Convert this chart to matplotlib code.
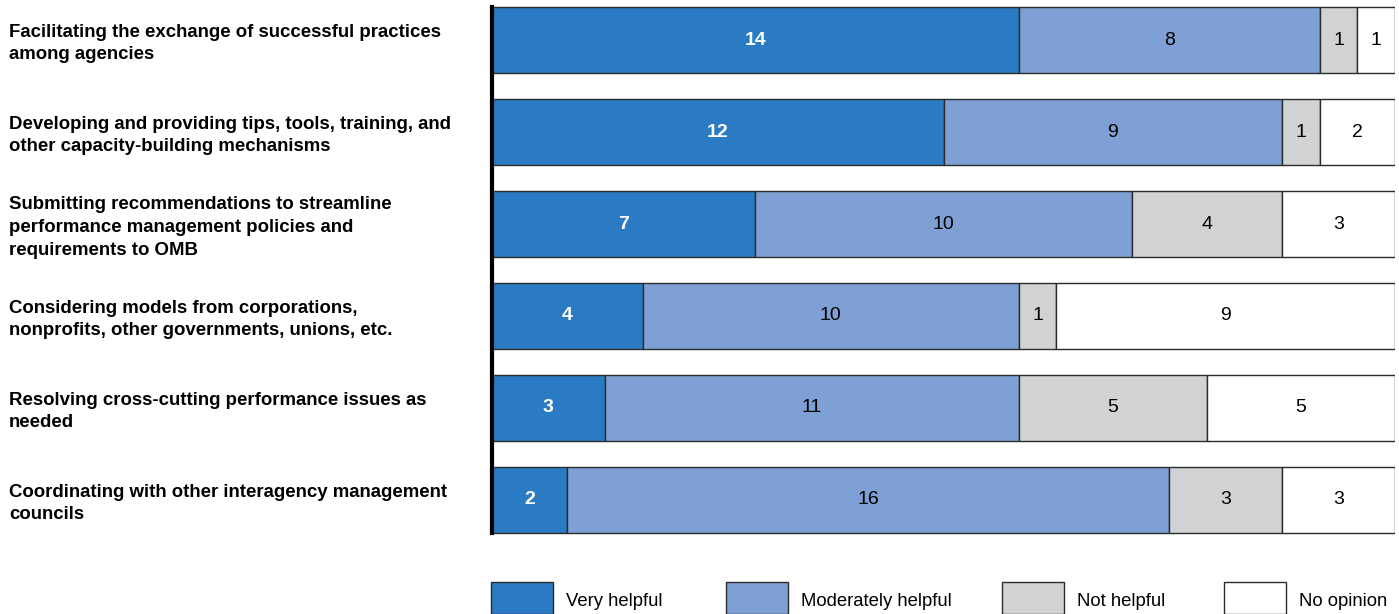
import matplotlib
matplotlib.use("Agg")
import matplotlib.pyplot as plt
from matplotlib.patches import Rectangle

categories = [
    "Facilitating the exchange of successful practices\namong agencies",
    "Developing and providing tips, tools, training, and\nother capacity-building mechanisms",
    "Submitting recommendations to streamline\nperformance management policies and\nrequirements to OMB",
    "Considering models from corporations,\nnonprofits, other governments, unions, etc.",
    "Resolving cross-cutting performance issues as\nneeded",
    "Coordinating with other interagency management\ncouncils",
]
series_names = ["Very helpful", "Moderately helpful", "Not helpful", "No opinion"]
very_helpful = [14, 12, 7, 4, 3, 2]
moderately_helpful = [8, 9, 10, 10, 11, 16]
not_helpful = [1, 1, 4, 1, 5, 3]
no_opinion = [1, 2, 3, 9, 5, 3]
series = [very_helpful, moderately_helpful, not_helpful, no_opinion]
colors = ["#2A7BC4", "#7FA0D4", "#D0D2D3", "#FFFFFF"]
text_colors = ["white", "black", "black", "black"]
text_weights = ["bold", "normal", "normal", "normal"]

plt.rcParams['font.family'] = ['Liberation Sans', 'DejaVu Sans']

W, H = 1399, 614
fig = plt.figure(figsize=(W / 100, H / 100), dpi=100)
ax = fig.add_axes([492 / W, (H - 540) / H, 903 / W, 540 / H])

bar_h = 66 / 92
y = list(range(len(categories)))
left = [0] * len(categories)
for vals, col, tc, tw in zip(series, colors, text_colors, text_weights):
    bars = ax.barh(y, vals, left=left, height=bar_h, color=col,
                   edgecolor="#2b2b2b", linewidth=1.0, zorder=2)
    for b, v in zip(bars, vals):
        ax.text(b.get_x() + b.get_width() / 2, b.get_y() + b.get_height() / 2,
                str(v), ha="center", va="center", color=tc, fontsize=14,
                fontweight=tw, zorder=3)
    left = [l + v for l, v in zip(left, vals)]

ax.set_xlim(0, 24)
ax.set_ylim(5.4348, -0.4348)
ax.set_xticks([])
ax.set_yticks([])
for s in ["top", "right", "bottom"]:
    ax.spines[s].set_visible(False)
ax.spines["left"].set_linewidth(3)
ax.spines["left"].set_color("black")
ax.spines["left"].set_zorder(4)
ax.spines["left"].set_bounds(-bar_h / 2, len(categories) - 1 + bar_h / 2)

# category labels
for i, cat in enumerate(categories):
    ypix = 43.5 + 92 * i
    fig.text(9 / W, 1 - ypix / H, cat, ha="left", va="center",
             fontsize=13.4, fontweight="bold", linespacing=1.45)

# legend
leg_x = [491, 726, 1002, 1224]
for name, col, lx in zip(series_names, colors, leg_x):
    fig.patches.append(Rectangle((lx / W, (H - 614) / H), 62 / W, 32 / H,
                                 transform=fig.transFigure, facecolor=col,
                                 edgecolor="#2b2b2b", linewidth=1.0))
    fig.text((lx + 75) / W, 1 - 601 / H, name, ha="left", va="center",
             fontsize=13.3)

fig.savefig("out.png", dpi=100)
